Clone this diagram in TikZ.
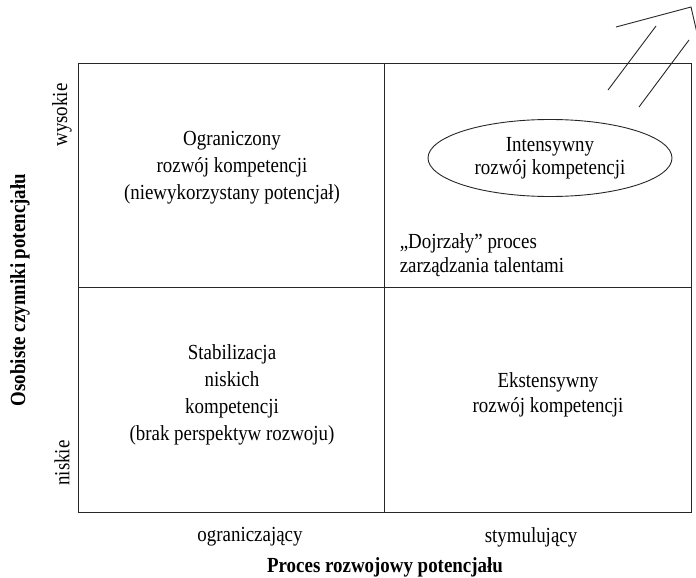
\documentclass[tikz,border=0pt]{standalone}
\usepackage{fontspec}
\setmainfont[FakeStretch=0.88]{Liberation Serif}
\usepackage{tikz}
\usetikzlibrary{
        positioning,
        shapes,
        shapes.geometric
    }
\tikzset{cell/.style={align=center,font=\fontsize{21.5}{27}\selectfont}}
\tikzset{axis/.style={font=\fontsize{21.5}{23}\selectfont}}
\tikzset{title/.style={font=\fontsize{21.5}{23}\selectfont\bfseries}}

\begin{document}
\begin{tikzpicture}[x=1pt,y=-1pt,line width=0.9pt,draw=black!85]
                    \useasboundingbox (0,0) rectangle (696,578);

                        % grid
                        \coordinate (nw) at (78,63);
                        \coordinate (se) at (691,512);
                        \coordinate (n)  at (384,63);
                        \coordinate (s)  at (384,512);
                        \coordinate (w)  at (78,287);
                        \coordinate (e)  at (691,287);
                        \draw (nw) rectangle (se);
                        \draw (n) -- (s);
                        \draw (w) -- (e);

                        % cells
                        \node[cell] (ogr) at (232,168) {Ograniczony\\rozwój kompetencji\\(niewykorzystany potencjał)};
                        \node[ellipse,draw,minimum width=244pt,minimum height=77pt,inner sep=0pt] (int) at (550,158) {};
                        \node[cell,font=\fontsize{21.5}{23.5}\selectfont] at (int) {Intensywny\\rozwój kompetencji};
                        \node[cell,align=left,font=\fontsize{21.5}{24}\selectfont,anchor=west] (doj) at (396,255) {„Dojrzały” proces\\zarządzania talentami};
                        \node[cell] (sta) at (232,395) {Stabilizacja\\niskich\\kompetencji\\(brak perspektyw rozwoju)};
                        \node[cell,font=\fontsize{21.5}{25}\selectfont] (eks) at (548,395) {Ekstensywny\\rozwój kompetencji};

                        % axes
                        \node[axis,rotate=90] (wys) at (62,115) {wysokie};
                        \node[axis,rotate=90] (nis) at (62,463) {niskie};
                        \node[title,rotate=90] (osc) at (20,290) {Osobiste czynniki potencjału};
                        \node[axis] (ogc) at (250,537) {ograniczający};
                        \node[axis] (sty) at (531,537) {stymulujący};
                        \node[title] (pro) at (385,567) {Proces rozwojowy potencjału};

                        % arrow
                        \coordinate (a1) at (616,27);
                        \coordinate (a2) at (691,7);
                        \coordinate (a3) at (697,33);
                        \draw (a1) -- (a2) -- (a3);
                        \draw (656,26) -- (608,90);
                        \draw (689,40) -- (639,107);
            \end{tikzpicture}
\end{document}
